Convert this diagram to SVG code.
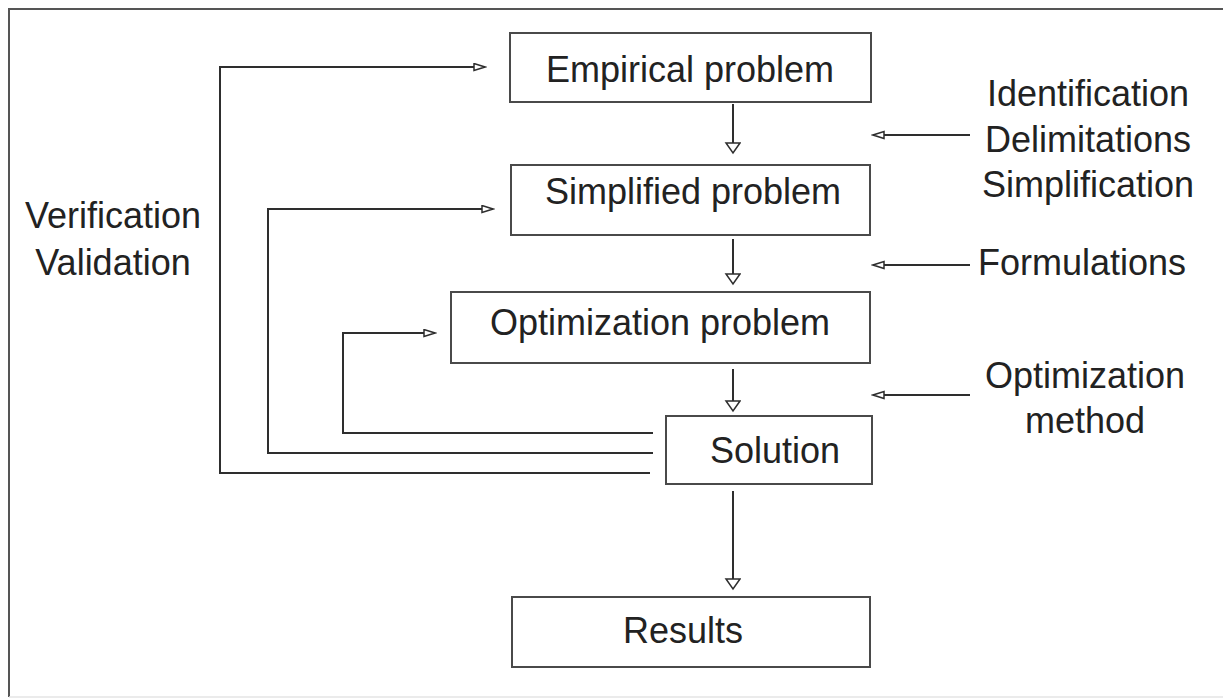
<svg xmlns="http://www.w3.org/2000/svg" width="1223" height="698" viewBox="0 0 1223 698">
<style>
  .box { fill: #fff; stroke: #4a4a4a; stroke-width: 2; }
  .lbl { font-family: "Liberation Sans", Arial, sans-serif; font-size: 36px; fill: #222; text-anchor: middle; }
  .con { fill: none; stroke: #2e2e2e; stroke-width: 2; }
</style>
<defs>
  <marker id="ah" markerUnits="userSpaceOnUse" markerWidth="14" markerHeight="11" refX="12" refY="4.5" orient="auto">
    <path d="M1,1 L12,4.5 L1,8 Z" fill="#fff" stroke="#2e2e2e" stroke-width="1.5"/>
  </marker>
  <marker id="ahw" markerUnits="userSpaceOnUse" markerWidth="13" markerHeight="18" refX="11" refY="8" orient="auto">
    <path d="M1,1 L11,8 L1,15 Z" fill="#fff" stroke="#2e2e2e" stroke-width="1.5"/>
  </marker>
</defs>
<rect width="1223" height="698" fill="#fff"/>
<path d="M1223,9 H9 V697" fill="none" stroke="#555" stroke-width="2"/>
<path d="M9,697 H1223" fill="none" stroke="#e4e4e4" stroke-width="1.5"/>

<g id="connectors">
  <line class="con" x1="733" y1="104" x2="733" y2="153" marker-end="url(#ahw)"/>
  <line class="con" x1="733" y1="239" x2="733" y2="284" marker-end="url(#ahw)"/>
  <line class="con" x1="733" y1="369" x2="733" y2="411" marker-end="url(#ahw)"/>
  <line class="con" x1="733" y1="491" x2="733" y2="589" marker-end="url(#ahw)"/>
  <line class="con" x1="970" y1="135" x2="873" y2="135" marker-end="url(#ah)"/>
  <line class="con" x1="970" y1="265" x2="873" y2="265" marker-end="url(#ah)"/>
  <line class="con" x1="970" y1="395" x2="873" y2="395" marker-end="url(#ah)"/>
  <path class="con" d="M650,473 H220 V67 H485" marker-end="url(#ah)"/>
  <path class="con" d="M653,453 H268 V209 H493" marker-end="url(#ah)"/>
  <path class="con" d="M653,433 H343 V333 H435" marker-end="url(#ah)"/>
</g>

<g id="empirical">
  <rect class="box" x="510" y="33" width="361" height="69"/>
  <text class="lbl" x="690" y="82">Empirical problem</text>
</g>
<g id="simplified">
  <rect class="box" x="511" y="165" width="359" height="70"/>
  <text class="lbl" x="693" y="204">Simplified problem</text>
</g>
<g id="optimization">
  <rect class="box" x="451" y="292" width="419" height="71"/>
  <text class="lbl" x="660" y="335">Optimization problem</text>
</g>
<g id="solution">
  <rect class="box" x="666" y="416" width="206" height="68"/>
  <text class="lbl" x="775" y="463">Solution</text>
</g>
<g id="results">
  <rect class="box" x="512" y="597" width="358" height="70"/>
  <text class="lbl" x="683" y="643">Results</text>
</g>
<g id="verification-label">
  <text class="lbl" x="113" y="228">Verification</text>
  <text class="lbl" x="113" y="275">Validation</text>
</g>
<g id="identification-label">
  <text class="lbl" x="1088" y="106">Identification</text>
  <text class="lbl" x="1088" y="152">Delimitations</text>
  <text class="lbl" x="1088" y="197">Simplification</text>
</g>
<g id="formulations-label">
  <text class="lbl" x="1082" y="275">Formulations</text>
</g>
<g id="method-label">
  <text class="lbl" x="1085" y="388">Optimization</text>
  <text class="lbl" x="1085" y="433">method</text>
</g>
</svg>
